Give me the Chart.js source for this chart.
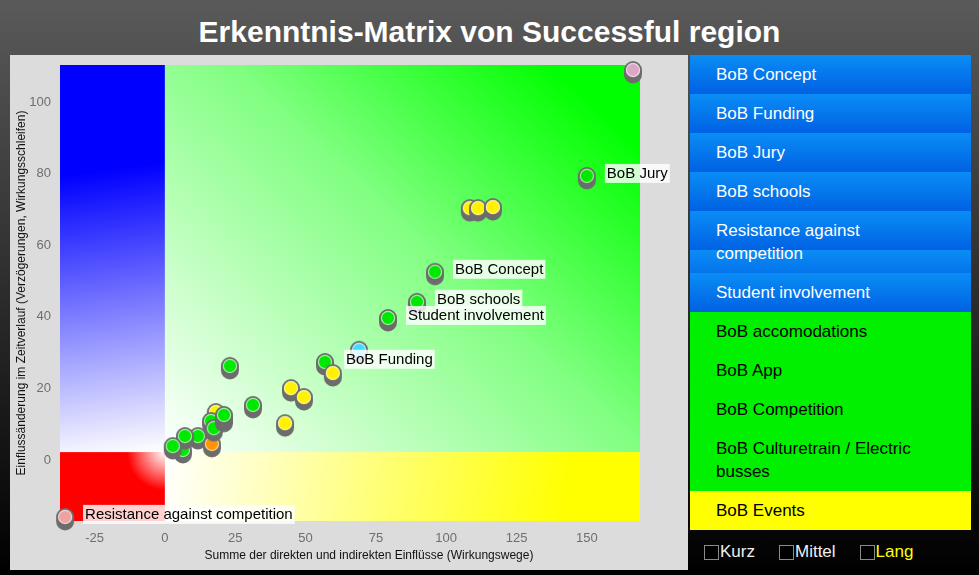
<!DOCTYPE html>
<html>
<head>
<meta charset="utf-8">
<script src="https://cdn.jsdelivr.net/npm/chart.js@4.4.1/dist/chart.umd.min.js"></script>
<style>
  html, body { margin: 0; padding: 0; }
  body {
    width: 979px; height: 575px; overflow: hidden; position: relative;
    background: linear-gradient(to bottom, #5a5a5a 0%, #000 100%);
    font-family: "Liberation Sans", Arial, Helvetica, sans-serif;
  }
  #title {
    position: absolute; left: 0; top: 17px; width: 979px;
    text-align: center; color: #fff; font-weight: bold; font-size: 30px; line-height: 30px;
  }
  #panel { position: absolute; left: 10px; top: 55px; width: 678px; height: 515px; background: #dcdcdc; }
  #list { position: absolute; left: 690px; top: 55px; width: 281px; }
  .item { box-sizing: border-box; padding: 8px 30px 8px 26px; font-size: 17px; line-height: 23px; }
  .blue { color: #fff; background: linear-gradient(#0a8df5, #0061e3); background-size: 100% 39px; }
  .green { color: #000; background: #00f000; }
  .yellow { color: #000; background: #ffff00; }
  #legend { position: absolute; left: 704px; top: 543px; display: flex; align-items: center; font-size: 17px; line-height: 18px; }
  #legend span { display: flex; align-items: center; margin-right: 24px; color: #f0f0f0; }
  #legend i { display: inline-block; box-sizing: border-box; width: 15px; height: 15px; border: 1px solid #8a8a8a; background: #000; margin-right: 1px; }
</style>
</head>
<body>
<div id="title">Erkenntnis-Matrix von Successful region</div>
<div id="panel"><canvas id="chart" width="678" height="515"></canvas></div>
<div id="list"></div>
<div id="legend"></div>
<script>
// points (draw order matters where they overlap)
const pointNames = ['', 'BoB Jury', '', '', '', 'BoB Concept', 'BoB schools', 'Student involvement', 'BoB Funding',
  '', '', '', '', '', '', '', '', '', '', '', '', '', '', '', '', '', 'Resistance against competition'];
const xValues = [166.4, 150.0, 108.4, 111.3, 116.6, 96.0, 89.6, 79.3, 69.0,
  56.9, 59.7, 44.8, 49.4, 31.3, 23.1, 42.7, 11.7, 6.4, 7.1, 2.8, 16.7, 18.1, 16.4, 17.4, 21.0, 21.0, -35.5];
const yValues = [109.0, 79.4, 70.4, 70.4, 70.7, 52.6, 44.2, 39.7, 30.8,
  27.4, 24.3, 20.1, 17.6, 15.4, 26.3, 10.3, 6.7, 2.8, 6.7, 3.9, 4.5, 13.4, 10.9, 8.9, 11.5, 12.6, -15.9];
const pointColors = ['#dca6c6', '#00e800', '#fff200', '#fff200', '#fff200', '#00e800', '#00e800', '#00e800', '#45ddff',
  '#00e800', '#fff200', '#fff200', '#fff200', '#00e800', '#00e800', '#fff200', '#00e800', '#00e800', '#00e800', '#00e800',
  '#ff9500', '#fff200', '#00e800', '#00e800', '#00e800', '#00e800', '#eea2a2'];

const xTicks = [-25, 0, 25, 50, 75, 100, 125, 150];
const yTicks = [0, 20, 40, 60, 80, 100];
const quadrantSplit = [0, 2.2];
const quadrantMaxX = 168.9;

const blueItems = ['BoB Concept', 'BoB Funding', 'BoB Jury', 'BoB schools', 'Resistance against competition', 'Student involvement'];
const greenItems = ['BoB accomodations', 'BoB App', 'BoB Competition', 'BoB Culturetrain / Electric busses'];
const yellowItems = ['BoB Events'];
const legendItems = ['Kurz', 'Mittel', 'Lang'];
const legendColors = ['#f0f0f0', '#f0f0f0', '#ffff00'];

// side list
const list = document.getElementById('list');
[[blueItems, 'blue'], [greenItems, 'green'], [yellowItems, 'yellow']].forEach(([items, cls]) => {
  items.forEach(t => {
    const d = document.createElement('div');
    d.className = 'item ' + cls;
    d.textContent = t;
    list.appendChild(d);
  });
});
const legend = document.getElementById('legend');
legendItems.forEach((t, i) => {
  const s = document.createElement('span');
  s.innerHTML = '<i></i>';
  s.appendChild(document.createTextNode(t));
  s.style.color = legendColors[i];
  legend.appendChild(s);
});

// marker: coloured dot with grey "cylinder" shadow
function makeSprite(color) {
  const c = document.createElement('canvas');
  c.width = 22; c.height = 32;
  const g = c.getContext('2d');
  const cx = 11, cy = 16;
  g.fillStyle = '#6c6c6c';
  g.beginPath(); g.arc(cx, cy, 9, 0, Math.PI * 2); g.fill();
  g.beginPath(); g.arc(cx, cy + 4.5, 9, 0, Math.PI * 2); g.fill();
  g.fillRect(cx - 9, cy, 18, 4.5);
  g.fillStyle = color;
  g.beginPath(); g.arc(cx, cy, 7, 0, Math.PI * 2); g.fill();
  g.strokeStyle = 'rgba(255,255,255,0.6)';
  g.lineWidth = 1.2;
  g.beginPath(); g.arc(cx, cy, 6.6, 0, Math.PI * 2); g.stroke();
  return c;
}
const sprites = pointColors.map(makeSprite);

const quadrantPlugin = {
  id: 'quadrants',
  beforeDatasetsDraw(chart) {
    const {ctx, chartArea: a, scales: {x, y}} = chart;
    const ox = x.getPixelForValue(quadrantSplit[0]);
    const oy = y.getPixelForValue(quadrantSplit[1]);
    const rx = x.getPixelForValue(quadrantMaxX);
    ctx.save();
    // blue: fades towards the origin
    let g = ctx.createLinearGradient(ox, oy, ox - 40, oy - 285);
    g.addColorStop(0, '#ffffff'); g.addColorStop(1, '#0000ff');
    ctx.fillStyle = g;
    ctx.fillRect(a.left, a.top, ox - a.left, oy - a.top);
    // green: diagonal towards top right
    g = ctx.createLinearGradient(ox, oy, ox + 0.68 * 550, oy - 0.73 * 550);
    g.addColorStop(0, '#ffffff'); g.addColorStop(0.6, '#80ff80'); g.addColorStop(1, '#00ff00');
    ctx.fillStyle = g;
    ctx.fillRect(ox, a.top, rx - ox, oy - a.top);
    // red: white only close to the origin
    g = ctx.createRadialGradient(ox, oy, 0, ox, oy, 38);
    g.addColorStop(0, '#ffffff'); g.addColorStop(1, '#ff0000');
    ctx.fillStyle = g;
    ctx.fillRect(a.left, oy, ox - a.left, a.bottom - oy);
    // yellow
    g = ctx.createLinearGradient(ox, oy, ox + 400, oy + 60);
    g.addColorStop(0, '#ffffff'); g.addColorStop(1, '#ffff00');
    ctx.fillStyle = g;
    ctx.fillRect(ox, oy, rx - ox, a.bottom - oy);
    ctx.restore();
  }
};

const labelPlugin = {
  id: 'pointLabels',
  afterDatasetsDraw(chart) {
    const ctx = chart.ctx;
    const meta = chart.getDatasetMeta(0);
    ctx.save();
    ctx.font = '15px "Liberation Sans", Arial, sans-serif';
    ctx.textBaseline = 'middle';
    meta.data.forEach((pt, i) => {
      const name = pointNames[i];
      if (!name) return;
      const w = ctx.measureText(name).width + 4;
      let bx = pt.x + 18, by = pt.y - 12;
      if (name === 'BoB Funding') { bx = pt.x - 15; by = pt.y; }
      ctx.fillStyle = 'rgba(255,255,255,0.82)';
      ctx.fillRect(bx, by, w, 19);
      ctx.fillStyle = '#000';
      ctx.fillText(name, bx + 2, by + 10);
    });
    ctx.restore();
  }
};

function fixBox(size, prop) {
  return s => {
    s[prop] = size;
    s.paddingTop = 0; s.paddingBottom = 0; s.paddingLeft = 0; s.paddingRight = 0;
  };
}

Chart.defaults.font.family = '"Liberation Sans", Arial, sans-serif';

new Chart(document.getElementById('chart'), {
  type: 'scatter',
  data: {
    datasets: [{
      data: xValues.map((v, i) => ({x: v, y: yValues[i]})),
      pointStyle: ctx => sprites[ctx.dataIndex],
      pointRadius: 9,
      clip: false
    }]
  },
  options: {
    responsive: false,
    animation: false,
    layout: { padding: { top: 10, right: 10, bottom: 0, left: 0 } },
    plugins: { legend: { display: false }, tooltip: { enabled: false } },
    scales: {
      x: {
        type: 'linear', min: -37.3, max: 182.4,
        afterFit: fixBox(49, 'height'),
        afterBuildTicks: s => { s.ticks = xTicks.map(v => ({value: v})); },
        grid: { display: false, drawTicks: false },
        border: { display: false },
        ticks: { color: '#6e6e6e', font: { size: 13 }, padding: 10 },
        title: {
          display: true, text: 'Summe der direkten und indirekten Einflüsse (Wirkungswege)',
          color: '#111', font: { size: 12 }, padding: { top: 0, bottom: 7 }
        }
      },
      y: {
        type: 'linear', min: -17.05, max: 110.4,
        afterFit: fixBox(50, 'width'),
        afterBuildTicks: s => { s.ticks = yTicks.map(v => ({value: v})); },
        grid: { display: false, drawTicks: false },
        border: { display: false },
        ticks: { color: '#6e6e6e', font: { size: 13 }, padding: 9 },
        title: {
          display: true, text: 'Einflussänderung im Zeitverlauf (Verzögerungen, Wirkungsschleifen)',
          color: '#111', font: { size: 12 }, padding: { top: 4, bottom: 0 }
        }
      }
    }
  },
  plugins: [quadrantPlugin, labelPlugin]
});
</script>
</body>
</html>
